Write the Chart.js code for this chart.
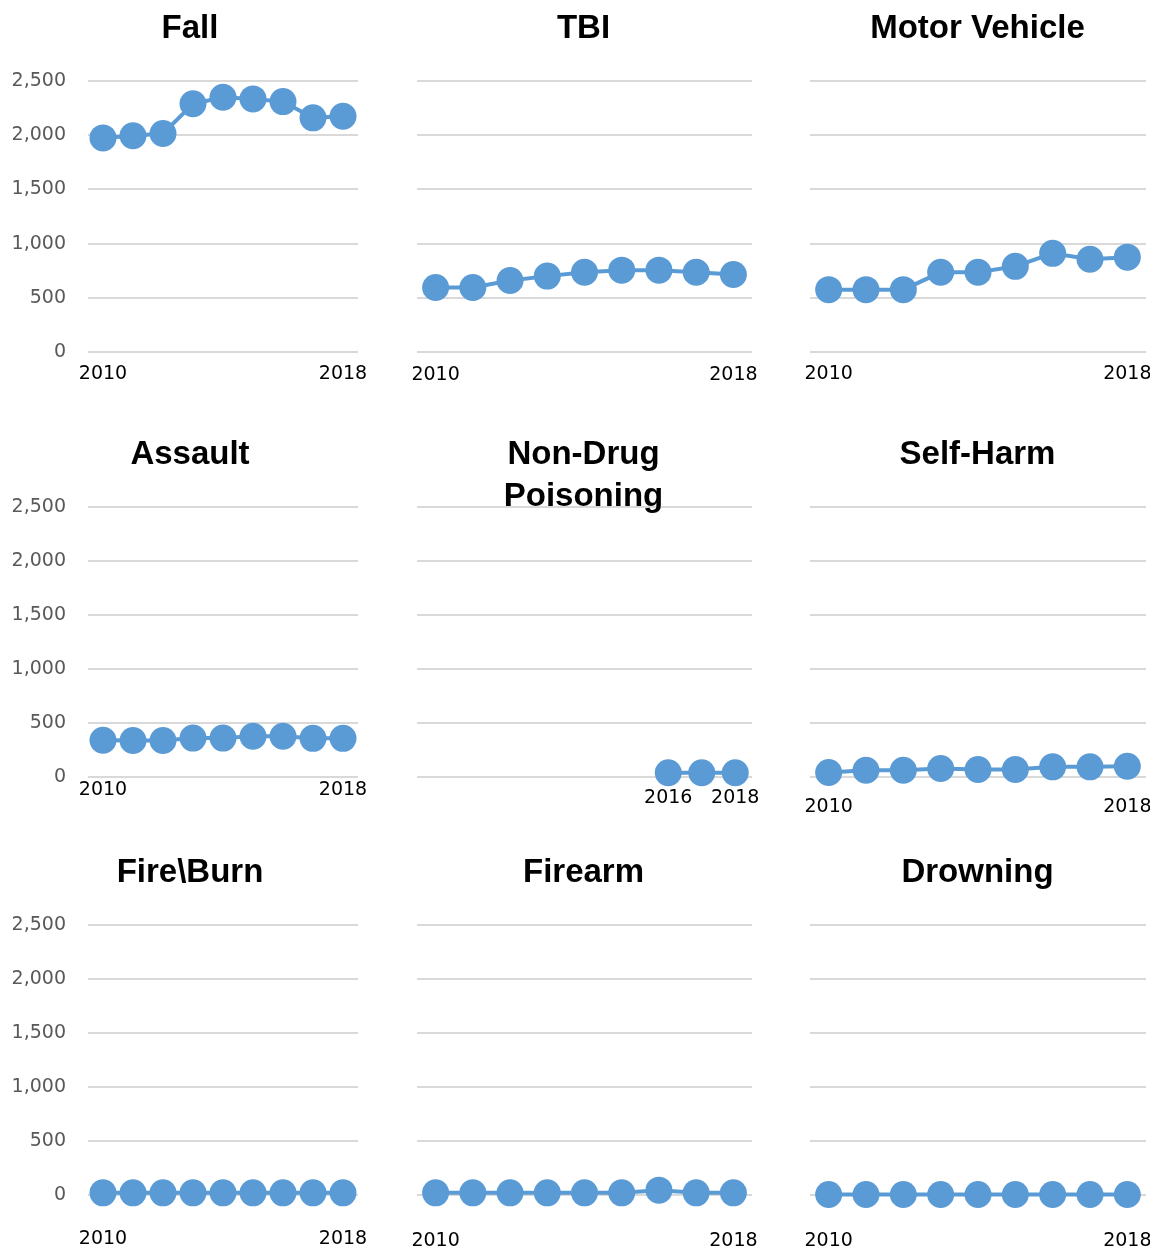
<!DOCTYPE html>
<html>
<head>
<meta charset="utf-8">
<script src="https://cdn.jsdelivr.net/npm/chart.js@4.4.1/dist/chart.umd.min.js"></script>
<style>
  body { margin: 0; background: #fff; width: 1150px; height: 1252px; position: relative; overflow: hidden; }
  canvas { position: absolute; }
</style>
</head>
<body>
<canvas id="c0"></canvas><canvas id="c1"></canvas><canvas id="c2"></canvas>
<canvas id="c3"></canvas><canvas id="c4"></canvas><canvas id="c5"></canvas>
<canvas id="c6"></canvas><canvas id="c7"></canvas><canvas id="c8"></canvas>
<script>
// data
const years = ['2010', '2011', '2012', '2013', '2014', '2015', '2016', '2017', '2018'];
const poisonYears = ['2009', '2010', '2011', '2012', '2013', '2014', '2015', '2016', '2017', '2018'];

const fall = [1975, 1995, 2015, 2290, 2350, 2335, 2310, 2160, 2175];
const tbi = [595, 595, 660, 700, 735, 755, 755, 735, 715];
const motorVehicle = [575, 575, 575, 735, 735, 790, 910, 855, 875];
const assault = [340, 338, 338, 360, 360, 378, 378, 358, 358];
const nonDrugPoisoning = [null, null, null, null, null, null, null, 40, 40, 40];
const selfHarm = [42, 62, 62, 78, 70, 70, 94, 94, 100];
const fireBurn = [20, 20, 20, 20, 20, 20, 20, 20, 20];
const firearm = [20, 20, 20, 20, 20, 20, 45, 20, 20];
const drowning = [5, 5, 5, 5, 5, 5, 5, 5, 5];

const yTicks = [0, 500, 1000, 1500, 2000, 2500];

// layout of the 3x3 grid: canvas left/width, y-axis width, space right of the plot
const cols = [
  { left: 0, width: 380, yWidth: 88, rightGap: 22 },
  { left: 395, width: 377, yWidth: 22, rightGap: 20 },
  { left: 805, width: 345, yWidth: 5, rightGap: 4 }
];
const rows = [
  { top: 0, height: 409 },
  { top: 426, height: 408 },
  { top: 844, height: 408 }
];

const blue = '#5B9BD5';

function makePanel(idx, title, labels, values, xPad) {
  const col = cols[idx % 3];
  const row = rows[Math.floor(idx / 3)];
  const canvas = document.getElementById('c' + idx);
  canvas.width = col.width;
  canvas.height = row.height;
  canvas.style.left = col.left + 'px';
  canvas.style.top = row.top + 'px';

  const multi = Array.isArray(title);
  let first = values.findIndex(v => v !== null);
  let last = values.length - 1;
  while (values[last] === null) last--;

  new Chart(canvas, {
    type: 'line',
    data: {
      labels: labels,
      datasets: [{
        data: values,
        borderColor: blue,
        borderWidth: 4,
        backgroundColor: blue,
        pointRadius: 13.5,
        pointHoverRadius: 13.5,
        pointBackgroundColor: blue,
        pointBorderWidth: 0,
        tension: 0,
        clip: false
      }]
    },
    options: {
      responsive: false,
      animation: false,
      layout: { autoPadding: false, padding: 0 },
      plugins: {
        legend: { display: false },
        tooltip: { enabled: false },
        title: {
          display: true,
          text: title,
          color: '#000',
          font: { family: 'Liberation Sans', size: 33, weight: 'bold', lineHeight: '42px' },
          padding: { top: 8, bottom: multi ? -11 : 31 }
        }
      },
      scales: {
        x: {
          offset: true,
          grid: { display: false, drawTicks: false },
          border: { display: false },
          ticks: {
            autoSkip: false,
            maxRotation: 0,
            minRotation: 0,
            padding: xPad,
            color: '#000',
            font: { family: 'DejaVu Sans', size: 19 },
            callback: function (val, i) {
              return (i === first || i === last) ? this.getLabelForValue(val) : '';
            }
          },
          // fixed axis height, and keep room right of the plot so the title stays centred on the panel
          afterFit: s => { s.height = 57; s.paddingLeft = 0; s.paddingRight = col.rightGap; }
        },
        y: {
          min: 0,
          max: 2500,
          afterBuildTicks: s => { s.ticks = yTicks.map(v => ({ value: v })); },
          grid: { color: '#d9d9d9', lineWidth: 2, drawTicks: false },
          border: { display: false },
          ticks: {
            display: idx % 3 === 0,
            padding: 22,
            color: '#595959',
            font: { family: 'DejaVu Sans', size: 19 }
          },
          afterFit: s => { s.width = col.yWidth; s.paddingTop = 0; s.paddingBottom = 0; }
        }
      }
    }
  });
}

makePanel(0, 'Fall', years, fall, 11);
makePanel(1, 'TBI', years, tbi, 12);
makePanel(2, 'Motor Vehicle', years, motorVehicle, 11);
makePanel(3, 'Assault', years, assault, 2);
makePanel(4, ['Non-Drug', 'Poisoning'], poisonYears, nonDrugPoisoning, 10);
makePanel(5, 'Self-Harm', years, selfHarm, 19);
makePanel(6, 'Fire\\Burn', years, fireBurn, 33);
makePanel(7, 'Firearm', years, firearm, 35);
makePanel(8, 'Drowning', years, drowning, 35);
</script>
</body>
</html>
